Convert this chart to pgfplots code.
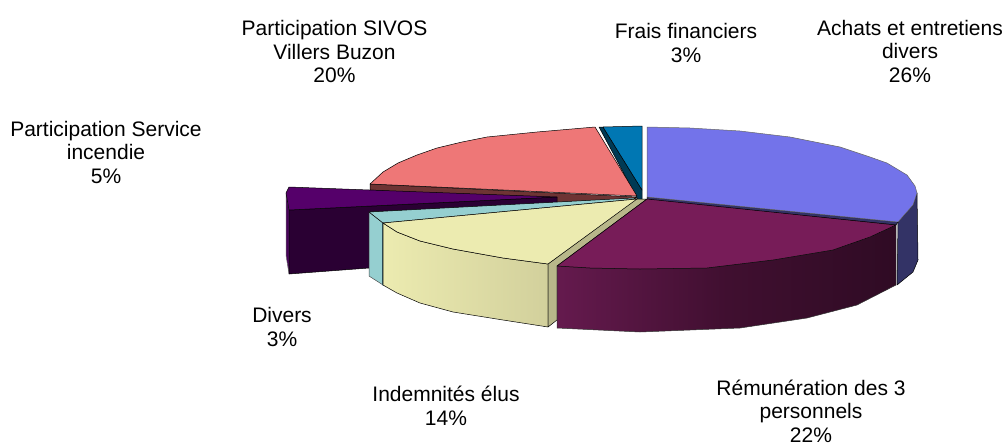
\documentclass[border=0pt]{standalone}
\usepackage{fontspec}
\setmainfont{Liberation Sans}
\usepackage{pgfplots}
\pgfplotsset{compat=1.18}
\definecolor{bluetop}{HTML}{7373EA}
\definecolor{blueside}{HTML}{333366}
\definecolor{martop}{HTML}{771C58}
\definecolor{marL}{HTML}{651A4E}
\definecolor{marM}{HTML}{400F30}
\definecolor{marR}{HTML}{2F0B24}
\definecolor{yeltop}{HTML}{ECEBB0}
\definecolor{yelR}{HTML}{D2D09C}
\definecolor{tanc}{HTML}{B8B78A}
\definecolor{tealc}{HTML}{95CFD0}
\definecolor{tealD}{HTML}{2F4F5A}
\definecolor{purtop}{HTML}{55006A}
\definecolor{purside}{HTML}{2A0033}
\definecolor{salm}{HTML}{EE7777}
\definecolor{brownc}{HTML}{6E3434}
\definecolor{sblue}{HTML}{0077B3}
\definecolor{sdark}{HTML}{003A55}
\tikzset{lab/.style={align=center,font=\fontsize{21}{23.5}\selectfont,text=black,inner sep=0pt}}
\begin{document}
\begin{tikzpicture}
\useasboundingbox (0,0) rectangle (1006pt,445pt);
\begin{axis}[at={(0,0)},anchor=south west,scale only axis,width=1006pt,height=445pt,
  xmin=0,xmax=1006,ymin=0,ymax=445,y dir=reverse,axis lines=none,clip=false,
  every axis plot/.append style={line width=0.5pt,line join=round,mark=none}]
% purple exploded slice: left edge and side
\addplot[fill=purtop!85!black,draw=black!60] coordinates {(286,193)(289,210)(289,274)(286,255)} --cycle;
% salmon inner wall
\addplot[fill=brownc,draw=black] coordinates {(370,184)(637,197)(633,199)(557,203)(370,190)} --cycle;
% purple
\addplot[fill=purside,draw=black] coordinates {(289,210)(557,197)(557,203)(369,212)(369,268)(289,274)} --cycle;
\addplot[fill=purtop,draw=black] coordinates {(286,193)(289,187)(557,197)(289,210)} --cycle;
% small blue slice
\addplot[fill=sdark,draw=black] coordinates {(599,127)(603,127)(642,190)(642,204)(637,198)} --cycle;
\addplot[fill=sblue,draw=black] coordinates {(603,127)(642,126)(642,190)} --cycle;
% salmon top
\addplot[fill=salm,draw=black] coordinates {(370,184)(383,172)(398,163)(417,155)(437,148)(462,142)(487,137)(537,132)(595,127)(637,196)} --cycle;
% teal
\addplot[fill=tealc,draw=black!70] coordinates {(369,212)(383,223)(383,285)(369,276)} --cycle;
\addplot[fill=tealc,draw=black] coordinates {(369,212)(633,198)(637,199)(383,223)} --cycle;
\addplot[fill=tealD,draw=none] coordinates {(382,223)(385,223)(385,286)(382,285)} --cycle;
% yellow
\addplot[left color=yeltop,right color=yelR,draw=black] coordinates {(383,223)(397,232)(420,241)(453,249)(503,258)(548,264)(548,327)(503,320)(453,312)(420,303)(397,293)(383,285)} --cycle;
\addplot[fill=tanc,draw=black] coordinates {(548,264)(636,199)(647,199)(557,266)(557,320)(548,327)} --cycle;
\addplot[fill=yeltop,draw=black] coordinates {(637,199)(383,223)(397,232)(420,241)(453,249)(503,258)(548,264)} --cycle;
% blue slice
\addplot[fill=blueside,draw=black] coordinates {(898,222)(913,205)(917,193)(918,260)(913,272)(897,285)} --cycle;
\addplot[fill=blueside,draw=black] coordinates {(647,197)(898,222)(896,225)(647,200)} --cycle;
\addplot[fill=bluetop,draw=black!60] coordinates {(647,127)(690,128)(740,131)(790,137)(840,147)(870,157)(887,163)(907,175)(915,186)(917,193)(913,205)(898,222)(647,197)} --cycle;
% maroon
\addplot[left color=marL,right color=marR,middle color=marM,draw=black!80] coordinates {(557,266)(590,268)(640,269)(707,268)(773,260)(833,250)(870,237)(896,225)(896,285)(857,305)(807,318)(740,328)(640,332)(557,328)} --cycle;
\addplot[fill=martop,draw=black] coordinates {(647,199)(896,225)(870,237)(833,250)(773,260)(707,268)(640,269)(590,268)(557,266)} --cycle;
% labels
\node[lab] at (axis cs:334.5,51.5) {Participation SIVOS\\Villers Buzon\\20\%};
\node[lab] at (axis cs:686,43) {Frais financiers\\3\%};
\node[lab] at (axis cs:910,51) {Achats et entretiens\\divers\\26\%};
\node[lab] at (axis cs:106,152) {Participation Service\\incendie\\5\%};
\node[lab] at (axis cs:282,327) {Divers\\3\%};
\node[lab] at (axis cs:446,406) {Indemnités élus\\14\%};
\node[lab] at (axis cs:811,411) {Rémunération des 3\\personnels\\22\%};
\end{axis}
\end{tikzpicture}
\end{document}
